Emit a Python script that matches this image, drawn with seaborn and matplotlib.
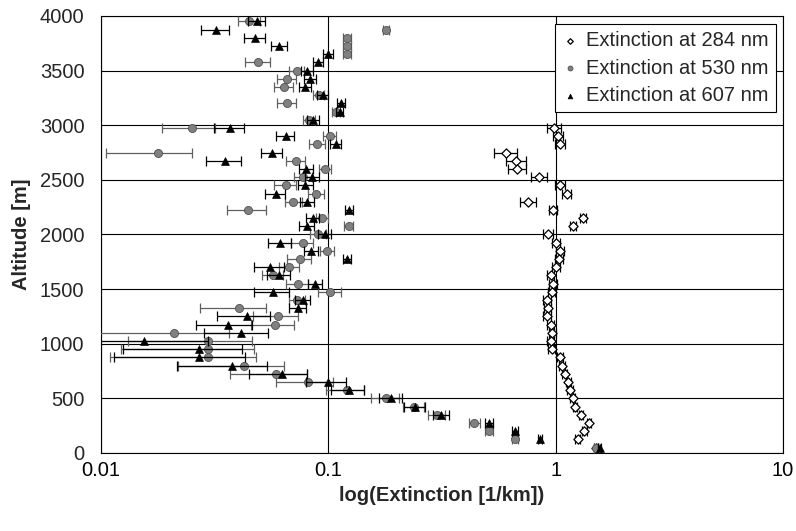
import numpy as np
import pandas as pd
import matplotlib.pyplot as plt
import seaborn as sns

# altitude levels [m]
altitude = [3950, 3875, 3800, 3725, 3650, 3575, 3500, 3425, 3350, 3275,
            3200, 3125, 3050, 2975, 2900, 2825, 2750, 2675, 2600, 2525,
            2450, 2375, 2300, 2225, 2150, 2075, 2000, 1925, 1850, 1775,
            1700, 1625, 1550, 1475, 1400, 1325, 1250, 1175, 1100, 1025,
            950, 875, 800, 725, 650, 575, 500, 425, 350, 275,
            200, 125, 50]

# extinction at 530 nm [1/km] and its error
ext_530 = [0.0449, 0.1795, 0.1205, 0.1205, 0.1205, 0.0492, 0.0726, 0.0660, 0.0637, 0.0907,
           0.0660, 0.108, 0.0822, 0.0251, 0.1014, 0.0892, 0.0178, 0.0721, 0.0967, 0.0774,
           0.0649, 0.0886, 0.0702, 0.0445, 0.0938, 0.1230, 0.0904, 0.0772, 0.099, 0.0751,
           0.0674, 0.0569, 0.0733, 0.102, 0.0728, 0.0403, 0.0603, 0.0581, 0.0210, 0.0296,
           0.0296, 0.0296, 0.0427, 0.0589, 0.0816, 0.1205, 0.1795, 0.238, 0.300, 0.439,
           0.509, 0.663, 1.506]
err_530 = [0.005, 0.005, 0.005, 0.005, 0.005, 0.006, 0.0057, 0.0063, 0.006, 0.005,
           0.0063, 0.004, 0.005, 0.0066, 0.007, 0.007, 0.0073, 0.007, 0.006, 0.007,
           0.007, 0.007, 0.006, 0.0085, 0.006, 0.006, 0.007, 0.0088, 0.007, 0.009,
           0.007, 0.006, 0.008, 0.012, 0.006, 0.013, 0.0135, 0.0125, 0.0155, 0.0165,
           0.0174, 0.0187, 0.021, 0.022, 0.023, 0.023, 0.025, 0.025, 0.025, 0.025,
           0.02, 0.02, 0.03]

# extinction at 607 nm [1/km] and its error
ext_607 = [0.0484, 0.0320, 0.0476, 0.0609, 0.0994, 0.0898, 0.0809, 0.0831, 0.0792, 0.0945,
           0.1137, 0.112, 0.0859, 0.0369, 0.0649, 0.1078, 0.0567, 0.0351, 0.080, 0.0850,
           0.0792, 0.0587, 0.0809, 0.1237, 0.0854, 0.0802, 0.0964, 0.0613, 0.0839, 0.1205,
           0.0554, 0.0605, 0.0877, 0.0573, 0.0772, 0.0733, 0.0437, 0.0361, 0.0412, 0.0154,
           0.0271, 0.0271, 0.0376, 0.0626, 0.0995, 0.1228, 0.1884, 0.2406, 0.313, 0.509,
           0.663, 0.854, 1.56]
err_607 = [0.004, 0.0046, 0.005, 0.005, 0.005, 0.0045, 0.005, 0.005, 0.005, 0.005,
           0.0048, 0.004, 0.005, 0.0055, 0.006, 0.006, 0.006, 0.0062, 0.006, 0.006,
           0.006, 0.006, 0.006, 0.005, 0.006, 0.006, 0.006, 0.0073, 0.006, 0.005,
           0.0085, 0.007, 0.006, 0.01, 0.006, 0.0065, 0.0114, 0.01, 0.0128, 0.0143,
           0.0146, 0.0157, 0.016, 0.018, 0.02, 0.02, 0.022, 0.025, 0.025, 0.02,
           0.02, 0.02, 0.03]

# extinction at 284 nm [1/km] (only below 3000 m) and its error
altitude_284 = [2975, 2900, 2825, 2750, 2675, 2600, 2525, 2450, 2375, 2300,
                2225, 2150, 2075, 2000, 1925, 1850, 1775, 1700, 1625, 1550,
                1475, 1400, 1325, 1250, 1175, 1100, 1025, 950, 875, 800,
                725, 650, 575, 500, 425, 350, 275, 200, 125, 50]
ext_284 = [0.987, 1.025, 1.048, 0.607, 0.672, 0.678, 0.848, 1.048, 1.119, 0.758,
           0.974, 1.316, 1.193, 0.926, 1.001, 1.048, 1.038, 1.005, 0.952, 0.974,
           0.961, 0.914, 0.923, 0.914, 0.952, 0.967, 0.952, 0.963, 1.046, 1.067,
           1.096, 1.137, 1.157, 1.189, 1.217, 1.293, 1.398, 1.337, 1.251, 1.50]
err_284 = [0.07, 0.05, 0.05, 0.07, 0.065, 0.06, 0.07, 0.05, 0.05, 0.06,
           0.04, 0.04, 0.04, 0.05, 0.04, 0.04, 0.04, 0.04, 0.035, 0.035,
           0.035, 0.035, 0.035, 0.035, 0.035, 0.035, 0.035, 0.035, 0.03, 0.03,
           0.03, 0.03, 0.03, 0.03, 0.03, 0.03, 0.03, 0.03, 0.03, 0.03]

sns.set_style("white")
plt.rcParams['font.family'] = ['Liberation Sans', 'DejaVu Sans']

fig = plt.figure(figsize=(7.96, 5.31), dpi=100)
ax = fig.add_axes([0.1269, 0.1469, 0.8568, 0.8230])

# 284 nm : open diamonds
ax.errorbar(ext_284, altitude_284, xerr=err_284, fmt='none', ecolor='black',
            elinewidth=0.9, capsize=3.5, capthick=0.9, zorder=3)
sns.scatterplot(x=ext_284, y=altitude_284, marker='D', s=22, color='white',
                edgecolor='black', linewidth=0.9, ax=ax, zorder=4,
                label='Extinction at 284 nm')

# 530 nm : grey circles
ax.errorbar(ext_530, altitude, xerr=err_530, fmt='none', ecolor='#606060',
            elinewidth=0.9, capsize=3.5, capthick=0.9, zorder=5)
sns.scatterplot(x=ext_530, y=altitude, marker='o', s=34, color='#808080',
                edgecolor='#505050', linewidth=0.6, ax=ax, zorder=6,
                label='Extinction at 530 nm')

# 607 nm : black triangles
ax.errorbar(ext_607, altitude, xerr=err_607, fmt='none', ecolor='black',
            elinewidth=0.9, capsize=3.5, capthick=0.9, zorder=7)
sns.scatterplot(x=ext_607, y=altitude, marker='^', s=32, color='black',
                edgecolor='black', linewidth=0.5, ax=ax, zorder=8,
                label='Extinction at 607 nm')

ax.set_xscale('log')
ax.set_xlim(0.01, 10)
ax.set_ylim(0, 4000)
ax.set_xticks([0.01, 0.1, 1, 10])
ax.set_xticklabels(['0.01', '0.1', '1', '10'])
ax.set_yticks(np.arange(0, 4001, 500))
ax.grid(True, which='major', color='black', linewidth=0.8)
ax.grid(False, which='minor')

ax.tick_params(axis='x', which='major', direction='in', length=5, width=0.8,
               pad=6, labelsize=14.5, colors='black')
ax.tick_params(axis='x', which='minor', direction='in', length=4, width=0.8)
ax.tick_params(axis='y', which='major', length=0, pad=12, labelsize=14.5)

for side in ['left', 'bottom', 'top', 'right']:
    ax.spines[side].set_color('black')
    ax.spines[side].set_linewidth(0.8)

ax.set_xlabel('log(Extinction [1/km])', fontsize=14.5, fontweight='bold', labelpad=4)
ax.set_ylabel('Altitude [m]', fontsize=14.5, fontweight='bold', labelpad=6)

leg = ax.legend(loc='upper right', bbox_to_anchor=(0.9985, 0.995), fontsize=14.5,
                frameon=True, fancybox=False, edgecolor='black', framealpha=1,
                markerscale=0.6, handlelength=0.8, handletextpad=0.4,
                borderpad=0.35, labelspacing=0.42, borderaxespad=0.3)
leg.get_frame().set_linewidth(0.8)

fig.savefig('out.png', dpi=100)
